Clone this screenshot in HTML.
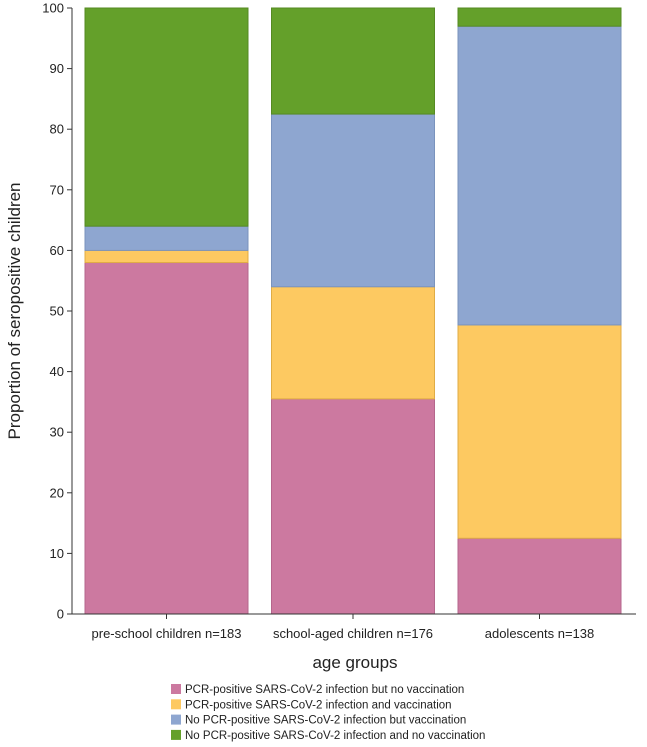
<!DOCTYPE html>
<html><head><meta charset="utf-8"><style>
body{margin:0;background:#fff;font-family:"Liberation Sans",Arial,sans-serif}
</style></head><body>
<svg id="c" width="647" height="742" xmlns="http://www.w3.org/2000/svg"></svg>
<script>
const categories=["pre-school children n=183","school-aged children n=176","adolescents n=138"];
const seriesNames=["PCR-positive SARS-CoV-2 infection but no vaccination","PCR-positive SARS-CoV-2 infection and vaccination","No PCR-positive SARS-CoV-2 infection but vaccination","No PCR-positive SARS-CoV-2 infection and no vaccination"];
const pcrNoVacc=[58,35.5,12.5];
const pcrVacc=[2,18.5,35.2];
const noPcrVacc=[4,28.5,49.3];
const noPcrNoVacc=[36,17.5,3];
const yTicks=[0,10,20,30,40,50,60,70,80,90,100];
const series=[pcrNoVacc,pcrVacc,noPcrVacc,noPcrNoVacc];
const colors=["#cc79a0","#fdc961","#8ea6d0","#64a02a"];
const strokes=["#b5668c","#e0ac45","#7a93bd","#558a22"];
const svg=document.getElementById('c');
const NS="http://www.w3.org/2000/svg";
const x0=72,x1=636,y0=614,y1=8;
const y=v=>y0-(v/100)*(y0-y1);
const bw=163;
const bx=i=>85+i*186.5;
function mk(t,a,txt){const e=document.createElementNS(NS,t);for(const k in a)e.setAttribute(k,a[k]);if(txt!==undefined)e.textContent=txt;svg.appendChild(e);return e;}
categories.forEach((c,i)=>{let acc=0;series.forEach((s,j)=>{
const r=mk('rect',{x:bx(i),y:y(acc+s[i]),width:bw,height:y(acc)-y(acc+s[i]),fill:colors[j],stroke:strokes[j],'stroke-width':1});


acc+=s[i];});
const t=mk('text',{x:bx(i)+bw/2,y:638,'text-anchor':'middle','font-size':13,fill:'#222'},c);


const tk=mk('line',{x1:bx(i)+bw/2,x2:bx(i)+bw/2,y1:y0,y2:y0+5,stroke:'#333'});


});
const ax=mk('line',{x1:x0,x2:x0,y1:y1,y2:y0,stroke:'#333'});


const axx=mk('line',{x1:x0,x2:x1,y1:y0,y2:y0,stroke:'#333'});


yTicks.forEach(v=>{
const l=mk('line',{x1:x0-5,x2:x0,y1:y(v),y2:y(v),stroke:'#333'});


const t=mk('text',{x:x0-8,y:y(v)+4.5,'text-anchor':'end','font-size':13,fill:'#222'},v);


});
const yt=mk('text',{x:0,y:0,transform:'translate(20,311) rotate(-90)','text-anchor':'middle','font-size':17,fill:'#222'},'Proportion of seropositive children');


const xt=mk('text',{x:355,y:668,'text-anchor':'middle','font-size':17,fill:'#222'},'age groups');


seriesNames.forEach((n,j)=>{const yy=689+j*15.3;
const r=mk('rect',{x:171,y:yy-5,width:10,height:10,fill:colors[j]});


const t=mk('text',{x:185,y:yy+4,'font-size':11.5,fill:'#222'},n);


});
</script>
</body></html>
